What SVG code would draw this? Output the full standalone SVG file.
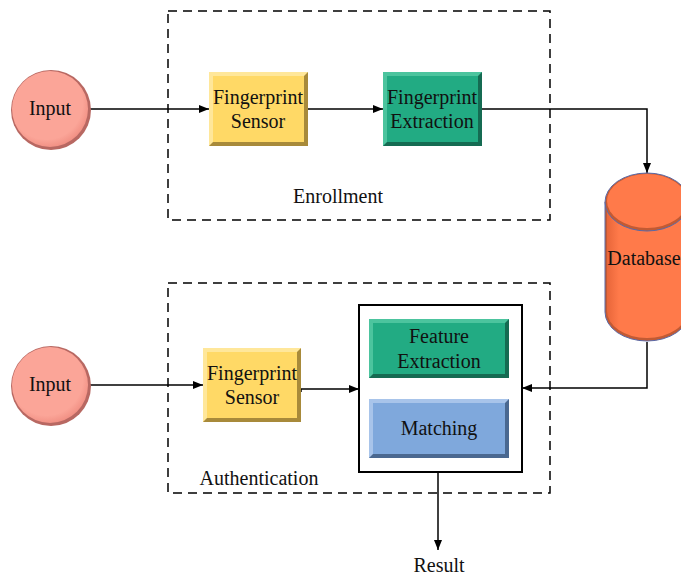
<svg xmlns="http://www.w3.org/2000/svg" width="681" height="575" viewBox="0 0 681 575">
<style>
text{font-family:'Liberation Serif','Times New Roman',serif;font-size:20px;fill:#111;text-anchor:middle}
.dash{fill:none;stroke:#000;stroke-width:1.5;stroke-dasharray:9,6}
.ln{fill:none;stroke:#000;stroke-width:1.5}
</style>
<defs>
<marker id="ah" viewBox="0 0 10 10" refX="10" refY="5" markerWidth="10" markerHeight="10" markerUnits="userSpaceOnUse" orient="auto">
<path d="M0,1 L10,5 L0,9 Z" fill="#000"/>
</marker>
<radialGradient id="circ" cx="0.45" cy="0.42" r="0.6">
<stop offset="0.8" stop-color="#fba598"/>
<stop offset="1" stop-color="#f08e82"/>
</radialGradient>
<linearGradient id="cyl" x1="0" x2="1" y1="0" y2="0">
<stop offset="0" stop-color="#e8663a"/>
<stop offset="0.15" stop-color="#ff7a4a"/>
<stop offset="1" stop-color="#ff7a4a"/>
</linearGradient>
</defs>

<rect class="dash" x="168" y="11" width="382" height="209"/>
<rect class="dash" x="168" y="283" width="382" height="210"/>
<text x="338" y="203">Enrollment</text>
<text x="259" y="485">Authentication</text>

<g id="connectors">
<line class="ln" x1="90" y1="109" x2="209" y2="109" marker-end="url(#ah)"/>
<line class="ln" x1="307" y1="109" x2="383" y2="109" marker-end="url(#ah)"/>
<polyline class="ln" points="482,109 647,109 647,173" marker-end="url(#ah)"/>
<line class="ln" x1="90" y1="385" x2="203" y2="385" marker-end="url(#ah)"/>
<polyline class="ln" points="301,392 301,389 359,389" marker-end="url(#ah)"/>
<polyline class="ln" points="647,342 647,388 522,388" marker-end="url(#ah)"/>
<line class="ln" x1="438" y1="378" x2="438" y2="399" marker-end="url(#ah)"/>
<line class="ln" x1="438" y1="458" x2="438" y2="550" marker-end="url(#ah)"/>
</g>

<g id="input1">
<circle cx="51" cy="110" r="40" fill="#b86862"/>
<circle cx="50" cy="109" r="38" fill="url(#circ)"/>
<text x="50" y="115">Input</text>
</g>

<g id="input2">
<circle cx="51" cy="386" r="40" fill="#b86862"/>
<circle cx="50" cy="385" r="38" fill="url(#circ)"/>
<text x="50" y="391">Input</text>
</g>

<g id="sensor1">
<rect x="209" y="72" width="99" height="74" fill="#a88a3a"/>
<polygon points="209,72 308,72 304,76 213,76 213,142 209,146" fill="#ffe79a"/>
<rect x="213" y="76" width="91" height="66" fill="#ffd966"/>
<text x="258" y="104">Fingerprint</text>
<text x="258" y="128">Sensor</text>
</g>

<g id="extraction1">
<rect x="383" y="72" width="99" height="74" fill="#156b52"/>
<polygon points="383,72 482,72 478,76 387,76 387,142 383,146" fill="#4cc49e"/>
<rect x="387" y="76" width="91" height="66" fill="#22ab83"/>
<text x="432" y="104">Fingerprint</text>
<text x="432" y="128">Extraction</text>
</g>

<g id="database">
<path d="M605,202 L605,312 A42,29 0 0 0 689,312 L689,202 Z" fill="#c25a33" stroke="#5a6aa8" stroke-width="1"/>
<path d="M607,202 L607,311 A40,27 0 0 0 687,311 L687,202 Z" fill="url(#cyl)"/>
<ellipse cx="647" cy="202" rx="42" ry="29" fill="#c25a33" stroke="#5a6aa8" stroke-width="1"/>
<ellipse cx="647" cy="201" rx="40" ry="27" fill="#ff7a4a"/>
<text x="644" y="265">Database</text>
</g>

<g id="sensor2">
<rect x="203" y="348" width="98" height="74" fill="#a88a3a"/>
<polygon points="203,348 301,348 297,352 207,352 207,418 203,422" fill="#ffe79a"/>
<rect x="207" y="352" width="90" height="66" fill="#ffd966"/>
<text x="252" y="380">Fingerprint</text>
<text x="252" y="404">Sensor</text>
</g>

<g id="matcher">
<rect x="359" y="305" width="163" height="167" fill="#fff" stroke="#000" stroke-width="2"/>
</g>

<g id="feature">
<rect x="369" y="319" width="140" height="59" fill="#156b52"/>
<polygon points="369,319 509,319 505,323 373,323 373,374 369,378" fill="#4cc49e"/>
<rect x="373" y="323" width="132" height="51" fill="#22ab83"/>
<text x="439" y="343">Feature</text>
<text x="439" y="368">Extraction</text>
</g>

<g id="matching">
<rect x="369" y="399" width="140" height="59" fill="#4a6890"/>
<polygon points="369,399 509,399 505,403 373,403 373,454 369,458" fill="#a8c4ea"/>
<rect x="373" y="403" width="132" height="51" fill="#7fa8dc"/>
<text x="439" y="435">Matching</text>
</g>

<text x="439" y="572">Result</text>
</svg>
